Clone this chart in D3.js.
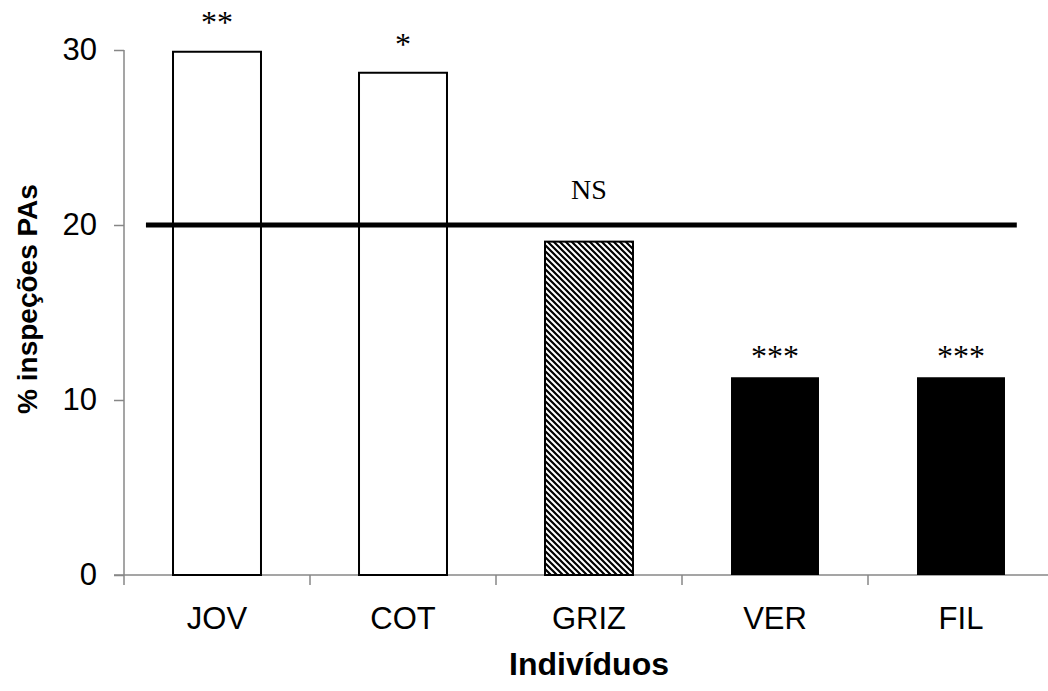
<!DOCTYPE html>
<head>
    <meta charset="utf-8">
    <title>% inspeções PAs</title>
    <script src="https://d3js.org/d3.v7.min.js"></script>
</head>
<style>
    body { margin: 0; background: #fff; }
    .axis path, .axis line { stroke: #878787; stroke-width: 1.5px; }
    .axis text { font-family: Arial, 'Liberation Sans', sans-serif; font-size: 31px; fill: #000; }
    .title { font-family: Arial, 'Liberation Sans', sans-serif; font-size: 32px; font-weight: bold; }
    .sig { font-family: 'Times New Roman', 'Liberation Serif', serif; fill: #000; }
</style>
<body>
    <svg></svg>
</body>

<script>
    var vWidth = 1048;
    var vHeight = 691;

    // data
    var categories = ['JOV', 'COT', 'GRIZ', 'VER', 'FIL'];
    var values = [29.9, 28.7, 19.05, 11.3, 11.3];
    var fills = ['white', 'white', 'hatch', 'black', 'black'];
    var sigLabels = ['**', '*', '', '***', '***'];
    var sigAt = [31.0, 29.7, 0, 11.9, 11.9];   // baseline of each label, in % units
    var yTicks = [0, 10, 20, 30];
    var refValue = 20;
    var refLabel = 'NS';

    var svg = d3.select('svg')
        .attr('width', vWidth)
        .attr('height', vHeight);

    // hatch for GRIZ
    var pat = svg.append('defs').append('pattern')
        .attr('id', 'hatch')
        .attr('patternUnits', 'userSpaceOnUse')
        .attr('width', 6).attr('height', 6);
    pat.append('rect').attr('width', 6).attr('height', 6).attr('fill', '#fff');
    pat.append('path')
        .attr('d', 'M-1,-1 L7,7 M-1,5 L1,7 M5,-1 L7,1')
        .attr('stroke', '#000')
        .attr('stroke-width', 2.2);

    var x = d3.scaleBand()
        .domain(categories)
        .range([124, 1054])
        .paddingInner(0.527)
        .paddingOuter(0.2635);

    var y = d3.scaleLinear()
        .domain([0, 30])
        .range([575, 50]);

    var step = x.step();

    // y axis
    svg.append('g')
        .attr('class', 'axis')
        .attr('transform', 'translate(124,0)')
        .call(d3.axisLeft(y).tickValues(yTicks).tickSize(10).tickSizeOuter(0).tickPadding(17))
        .call(function (g) { g.select('.domain').attr('d', 'M0,' + y(30) + 'V' + y(0)); });

    // x axis, ticks between categories
    var xa = svg.append('g')
        .attr('class', 'axis')
        .attr('transform', 'translate(0,' + y(0) + ')');
    xa.append('line')
        .attr('x1', 114).attr('x2', vWidth);
    xa.selectAll('.tk')
        .data(d3.range(categories.length + 1))
        .enter().append('line')
        .attr('x1', function (i) { return 124 + i * step; })
        .attr('x2', function (i) { return 124 + i * step; })
        .attr('y1', 0).attr('y2', 10);
    xa.selectAll('text')
        .data(categories)
        .enter().append('text')
        .attr('x', function (d) { return x(d) + x.bandwidth() / 2; })
        .attr('y', 54)
        .attr('text-anchor', 'middle')
        .text(function (d) { return d; });

    // bars
    svg.selectAll('.bar')
        .data(categories)
        .enter().append('rect')
        .attr('class', 'bar')
        .attr('x', function (d) { return x(d); })
        .attr('width', x.bandwidth())
        .attr('y', function (d, i) { return y(values[i]); })
        .attr('height', function (d, i) { return y(0) - y(values[i]); })
        .attr('fill', function (d, i) { return fills[i] === 'hatch' ? 'url(#hatch)' : fills[i]; })
        .attr('stroke', '#000')
        .attr('stroke-width', function (d, i) { return fills[i] === 'black' ? 0 : 2; });

    // reference line at 20%
    svg.append('line')
        .attr('x1', 124 + 0.118 * step)
        .attr('x2', 124 + 4.8 * step)
        .attr('y1', y(refValue))
        .attr('y2', y(refValue))
        .attr('stroke', '#000')
        .attr('stroke-width', 5);

    svg.append('text')
        .attr('class', 'sig')
        .attr('x', x('GRIZ') + x.bandwidth() / 2)
        .attr('y', 199)
        .attr('text-anchor', 'middle')
        .style('font-size', '28px')
        .text(refLabel);

    // significance stars
    svg.selectAll('.star')
        .data(categories)
        .enter().append('text')
        .attr('class', 'sig')
        .attr('x', function (d) { return x(d) + x.bandwidth() / 2; })
        .attr('y', function (d, i) { return y(sigAt[i]); })
        .attr('text-anchor', 'middle')
        .style('font-size', '32px')
        .text(function (d, i) { return sigLabels[i]; });

    // titles
    svg.append('text')
        .attr('class', 'title')
        .attr('x', x('GRIZ') + x.bandwidth() / 2)
        .attr('y', 675)
        .attr('text-anchor', 'middle')
        .text('Indivíduos');

    svg.append('text')
        .attr('class', 'title')
        .attr('transform', 'translate(37,299) rotate(-90)')
        .attr('text-anchor', 'middle')
        .style('font-size', '28px')
        .text('% inspeções PAs');
</script>
